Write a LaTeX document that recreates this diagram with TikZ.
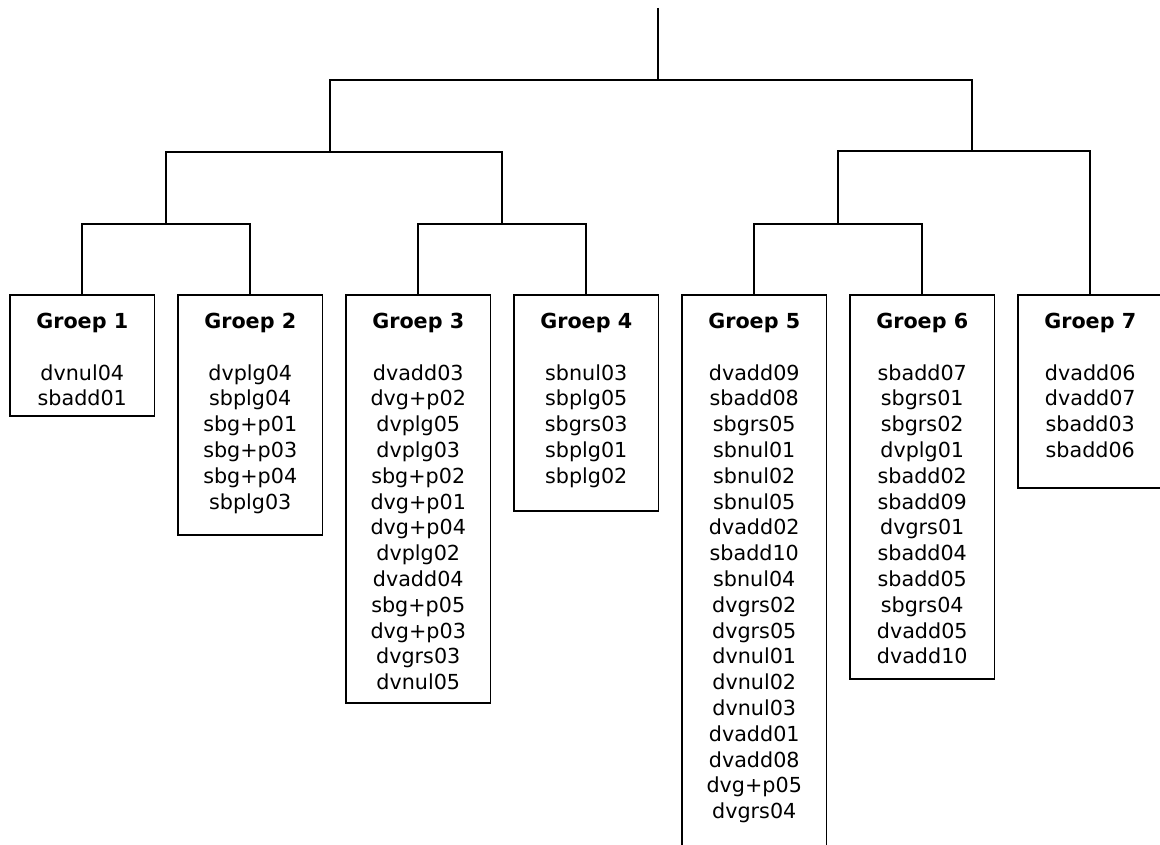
\documentclass[tikz,border=0pt]{standalone}
\usepackage{fontspec}
\setmainfont{DejaVu Sans}
\usetikzlibrary{positioning}
\newcommand{\groepbox}[3]{\parbox[t][#1][t]{144.5pt}{\centering\rule{0pt}{33.5pt}\textbf{#2}\\[25.8pt]#3}}

\begin{document}
\begin{tikzpicture}[
    x=1pt, y=1pt,
    font=\fontsize{20.7pt}{25.8pt}\selectfont,
    groep/.style={
      draw,
      line width=1.8pt,
      inner sep=0pt,
      outer sep=0pt,
      anchor=north west,
    },
    tak/.style={line width=1.8pt},
  ]
    \useasboundingbox (0,0) rectangle (1160,845);
    \clip (0,0) rectangle (1160,845);

    \node[groep] (g1) at (10,550)
      {\groepbox{121pt}{Groep 1}{dvnul04\\sbadd01}};
    \node[groep,right=23.5pt of g1.north east,anchor=north west] (g2)
      {\groepbox{240pt}{Groep 2}{dvplg04\\sbplg04\\sbg+p01\\sbg+p03\\sbg+p04\\sbplg03}};
    \node[groep,right=23.5pt of g2.north east,anchor=north west] (g3)
      {\groepbox{408pt}{Groep 3}{dvadd03\\dvg+p02\\dvplg05\\dvplg03\\sbg+p02\\dvg+p01\\dvg+p04\\dvplg02\\dvadd04\\sbg+p05\\dvg+p03\\dvgrs03\\dvnul05}};
    \node[groep,right=23.5pt of g3.north east,anchor=north west] (g4)
      {\groepbox{216pt}{Groep 4}{sbnul03\\sbplg05\\sbgrs03\\sbplg01\\sbplg02}};
    \node[groep,right=23.5pt of g4.north east,anchor=north west] (g5)
      {\groepbox{600pt}{Groep 5}{dvadd09\\sbadd08\\sbgrs05\\sbnul01\\sbnul02\\sbnul05\\dvadd02\\sbadd10\\sbnul04\\dvgrs02\\dvgrs05\\dvnul01\\dvnul02\\dvnul03\\dvadd01\\dvadd08\\dvg+p05\\dvgrs04}};
    \node[groep,right=23.5pt of g5.north east,anchor=north west] (g6)
      {\groepbox{384pt}{Groep 6}{sbadd07\\sbgrs01\\sbgrs02\\dvplg01\\sbadd02\\sbadd09\\dvgrs01\\sbadd04\\sbadd05\\sbgrs04\\dvadd05\\dvadd10}};
    \node[groep,right=23.5pt of g6.north east,anchor=north west] (g7)
      {\groepbox{193pt}{Groep 7}{dvadd06\\dvadd07\\sbadd03\\sbadd06}};

    % junctions of the tree
    \coordinate (top) at (658,837);
    \coordinate (jR) at (658,765);
    \coordinate (jA) at (330,693);
    \coordinate (jB) at (972,694);
    \coordinate (j12) at (166,621);
    \coordinate (j34) at (502,621);
    \coordinate (j56) at (838,621);

    \draw[tak] (g1.north) |- (j12) -| (g2.north);
    \draw[tak] (g3.north) |- (j34) -| (g4.north);
    \draw[tak] (g5.north) |- (j56) -| (g6.north);
    \draw[tak] (j12) |- (jA) -| (j34);
    \draw[tak] (j56) |- (jB) -| (g7.north);
    \draw[tak] (jA) |- (jR) -| (jB);
    \draw[tak] (top) -- (jR);
  \end{tikzpicture}
\end{document}
